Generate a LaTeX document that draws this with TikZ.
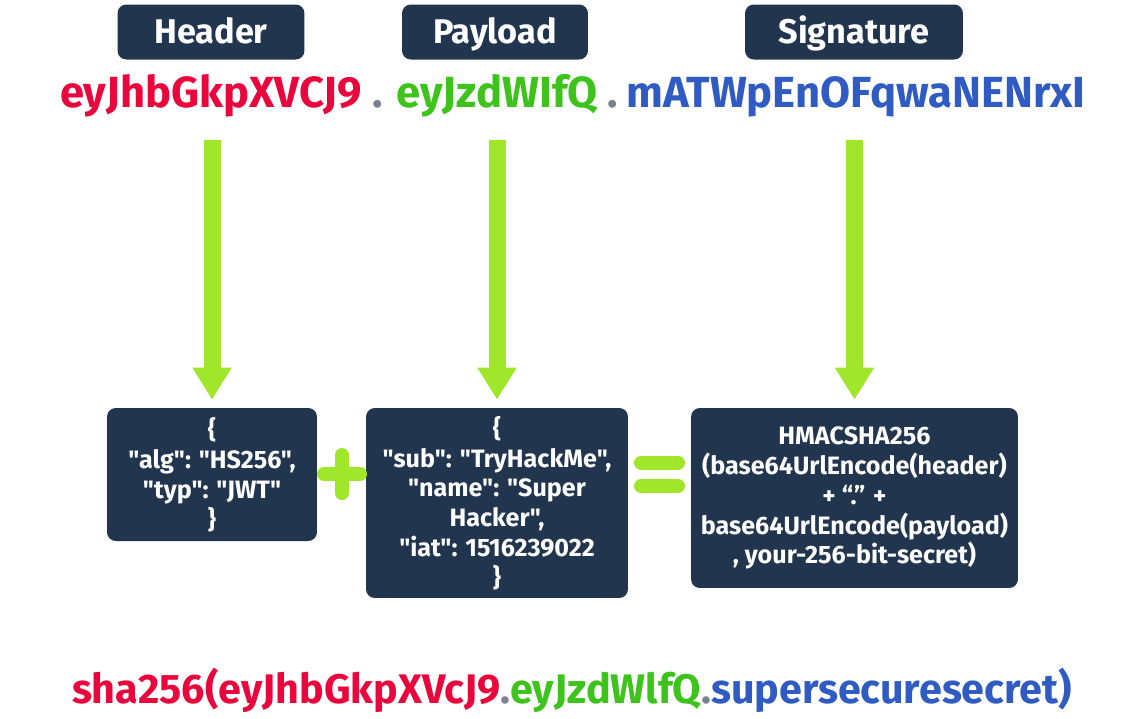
\documentclass[tikz,border=0pt]{standalone}
\usepackage{fontspec}
\setmainfont{Fira Sans}[Ligatures=TeXOff]
\usepackage{xcolor}
\usetikzlibrary{arrows.meta}

\definecolor{navy}{HTML}{21354F}
\definecolor{lime}{HTML}{A0E62B}
\definecolor{tokred}{HTML}{E8063C}
\definecolor{tokgreen}{HTML}{3DC31B}
\definecolor{tokblue}{HTML}{2F5BC2}
\definecolor{dotgray}{HTML}{7C8390}

\begin{document}
\begin{tikzpicture}[
    x=0.02cm, y=-0.02cm,
    part_box/.style={fill=navy, rounded corners=5pt, text=white, minimum height=1.1cm,
                     text height=13.5pt, text depth=0pt,
                     font=\fontsize{19.5}{22}\selectfont\bfseries},
    json_box/.style={fill=navy, rounded corners=5pt, text=white, align=center,
                     inner sep=0pt, font=\fontsize{14.3}{17}\selectfont\bfseries},
    token/.style={font=\fontsize{24.8}{28}\selectfont\bfseries, inner sep=0pt, anchor=base},
    big_arrow/.style={draw=lime, line width=0.34cm,
                      -{Triangle[width=0.74cm, length=0.64cm]}, shorten >=0.16cm},
    sign/.style={draw=lime, line width=0.28cm, line cap=round}
]
\useasboundingbox (0,0) rectangle (1125,718);

% Part labels
\node[part_box, minimum width=3.74cm] (hlabel) at (211, 32) {Header};
\node[part_box, minimum width=3.72cm] (plabel) at (495, 32) {Payload};
\node[part_box, minimum width=4.36cm] (slabel) at (854, 32) {Signature};

% Encoded token
\node[token, text=tokred] (htok) at (211, 107) {eyJhbGkpXVCJ9};
\node[token, text=dotgray] (dot1) at (378, 107) {.};
\node[token, text=tokgreen] (ptok) at (497, 107) {eyJzdWIfQ};
\node[token, text=dotgray] (dot2) at (613, 107) {.};
\node[token, text=tokblue] (stok) at (856, 107) {mATWpEnOFqwaNENrxI};

% Decoded parts
\node[json_box, minimum width=4.2cm, minimum height=2.66cm] (hbox) at (212, 474.5) {
    \{\\
    "alg": "HS256",\\
    "typ": "JWT"\\
    \}
};
\node[json_box, minimum width=5.24cm, minimum height=3.8cm] (pbox) at (497, 503) {
    \{\\
    "sub": "TryHackMe",\\
    "name": "Super\\
    Hacker",\\
    "iat": 1516239022\\
    \}
};
\node[json_box, minimum width=6.54cm, minimum height=3.6cm] (sbox) at (854.5, 498) {
    HMACSHA256\\
    (base64UrlEncode(header)\\
    + “.” +\\
    base64UrlEncode(payload)\\
    , your-256-bit-secret)
};

% Arrows
\coordinate (hstart) at (212, 140);
\coordinate (pstart) at (497, 140);
\coordinate (sstart) at (854.5, 140);
\draw[big_arrow] (hstart) -- (hbox.north);
\draw[big_arrow] (pstart) -- (pbox.north);
\draw[big_arrow] (sstart) -- (sbox.north);

% Plus and equals
\draw[sign] (324, 474) -- (360, 474);
\draw[sign] (342, 455) -- (342, 493);
\draw[sign] (641, 462.5) -- (678, 462.5);
\draw[sign] (641, 486) -- (678, 486);

% Signature check
\node[font=\fontsize{23.5}{26}\selectfont\bfseries, inner sep=0pt] (check) at (572, 690) {%
    \textcolor{tokred}{sha256(eyJhbGkpXVcJ9}\textcolor{dotgray}{.}%
    \textcolor{tokgreen}{eyJzdWlfQ}\textcolor{dotgray}{.}%
    \textcolor{tokblue}{supersecuresecret)}};

\end{tikzpicture}
\end{document}
